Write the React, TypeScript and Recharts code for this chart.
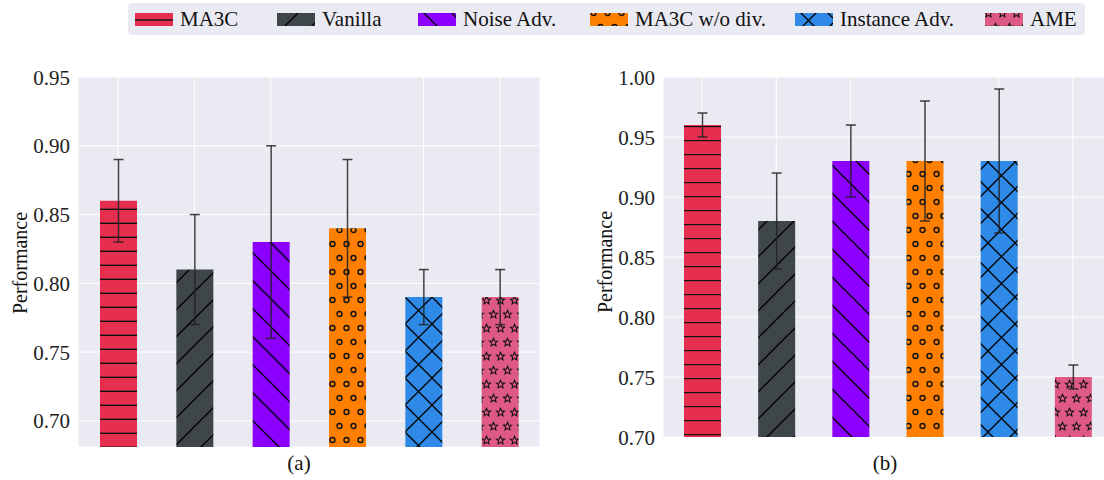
import React from 'react';
import { BarChart, Bar, XAxis, YAxis, CartesianGrid, Cell, ErrorBar } from 'recharts';

const methods = ['MA3C', 'Vanilla', 'Noise Adv.', 'MA3C w/o div.', 'Instance Adv.', 'AME'];
const perfA = [0.86, 0.81, 0.83, 0.84, 0.79, 0.79];
const errA = [0.03, 0.04, 0.07, 0.05, 0.02, 0.02];
const perfB = [0.96, 0.88, 0.93, 0.93, 0.93, 0.75];
const errB = [0.01, 0.04, 0.03, 0.05, 0.06, 0.01];
const ticksA = [0.7, 0.75, 0.8, 0.85, 0.9, 0.95];
const ticksB = [0.7, 0.75, 0.8, 0.85, 0.9, 0.95, 1.0];
const panelLabels = ['(a)', '(b)'];
const colors = ['#E62E4F', '#3E464A', '#8B00FF', '#FF8000', '#2E8AE6', '#DE5A84'];

const FONT = "'Liberation Serif', 'Times New Roman', Times, serif";
const BG = '#EAEAF2';

const dataA = methods.map((m, i) => ({ name: m, v: perfA[i], e: errA[i] }));
const dataB = methods.map((m, i) => ({ name: m, v: perfB[i], e: errB[i] }));

function starPath(cx: number, cy: number, R: number, r: number) {
  const pts: string[] = [];
  for (let k = 0; k < 10; k++) {
    const rad = k % 2 === 0 ? R : r;
    const a = -Math.PI / 2 + (k * Math.PI) / 5;
    pts.push(`${(cx + rad * Math.cos(a)).toFixed(2)},${(cy + rad * Math.sin(a)).toFixed(2)}`);
  }
  return 'M' + pts.join('L') + 'Z';
}

const PatternSet = ({ p, hy }: { p: string; hy: number }) => (
  <>
    <pattern id={`${p}0`} patternUnits="userSpaceOnUse" width={14} height={14}>
      <rect width={14} height={14} fill={colors[0]} />
      <line x1={0} x2={14} y1={hy} y2={hy} stroke="#111" strokeWidth={1.4} />
    </pattern>
    <pattern id={`${p}1`} patternUnits="userSpaceOnUse" width={27} height={27}>
      <rect width={27} height={27} fill={colors[1]} />
      <line x1={0} y1={27} x2={27} y2={0} stroke="#000" strokeWidth={1.3} />
      <line x1={-2} y1={2} x2={2} y2={-2} stroke="#000" strokeWidth={1.3} />
      <line x1={25} y1={29} x2={29} y2={25} stroke="#000" strokeWidth={1.3} />
    </pattern>
    <pattern id={`${p}2`} patternUnits="userSpaceOnUse" width={28} height={28}>
      <rect width={28} height={28} fill={colors[2]} />
      <line x1={0} y1={0} x2={28} y2={28} stroke="#000" strokeWidth={1.3} />
      <line x1={-2} y1={26} x2={2} y2={30} stroke="#000" strokeWidth={1.3} />
      <line x1={26} y1={-2} x2={30} y2={2} stroke="#000" strokeWidth={1.3} />
    </pattern>
    <pattern id={`${p}3`} patternUnits="userSpaceOnUse" width={14} height={28}>
      <rect width={14} height={28} fill={colors[3]} />
      <circle cx={3.5} cy={6} r={2.5} fill="none" stroke="#111" strokeWidth={1.4} />
      <circle cx={10.5} cy={20} r={2.5} fill="none" stroke="#111" strokeWidth={1.4} />
    </pattern>
    <pattern id={`${p}4`} patternUnits="userSpaceOnUse" width={27} height={27}>
      <rect width={27} height={27} fill={colors[4]} />
      <line x1={0} y1={0} x2={27} y2={27} stroke="#000" strokeWidth={1.3} />
      <line x1={0} y1={27} x2={27} y2={0} stroke="#000" strokeWidth={1.3} />
    </pattern>
    <pattern id={`${p}5`} patternUnits="userSpaceOnUse" width={14} height={28}>
      <rect width={14} height={28} fill={colors[5]} />
      <path d={starPath(3.5, 6.5, 4.2, 1.9)} fill="none" stroke="#111" strokeWidth={1.1} />
      <path d={starPath(10.5, 20.5, 4.2, 1.9)} fill="none" stroke="#111" strokeWidth={1.1} />
      <path d={starPath(17.5, 6.5, 4.2, 1.9)} fill="none" stroke="#111" strokeWidth={1.1} />
      <path d={starPath(-3.5, 20.5, 4.2, 1.9)} fill="none" stroke="#111" strokeWidth={1.1} />
    </pattern>
  </>
);

const Patterns = () => (
  <svg width={0} height={0} style={{ position: 'absolute' }}>
    <defs>
      <PatternSet p="patL" hy={13} />
      <PatternSet p="patA" hy={13.3} />
      <PatternSet p="patB" hy={0.5} />
    </defs>
  </svg>
);

const legendSwatchX = [135, 277, 418, 590, 795, 985];

const Legend = () => (
  <div
    style={{
      position: 'absolute',
      left: 128,
      top: 3,
      width: 957,
      height: 32,
      background: '#EAEAF2',
      borderRadius: 4,
    }}
  >
    {methods.map((m, i) => (
      <div
        key={m}
        style={{
          position: 'absolute',
          left: legendSwatchX[i] - 128,
          top: 0,
          height: 32,
          display: 'flex',
          alignItems: 'center',
          whiteSpace: 'nowrap',
        }}
      >
        <svg width={38} height={13} style={{ display: 'block' }}>
          <g transform="translate(0,-6)">
            <rect x={0} y={6} width={38} height={13} fill={`url(#patL${i})`} />
          </g>
        </svg>
        <span style={{ marginLeft: 7, fontFamily: FONT, fontSize: 21, color: '#111', lineHeight: '32px' }}>{m}</span>
      </div>
    ))}
  </div>
);

const YTick = (props: any) => {
  const { x, y, payload } = props;
  return (
    <text x={x} y={y} dy="0.36em" textAnchor="end" fontFamily="Liberation Serif" fontSize={21} fill="#222">
      {Number(payload.value).toFixed(2)}
    </text>
  );
};

function Panel({ data, ticks, domain, width, height, bottom, yw, pid }: any) {
  return (
    <BarChart width={width} height={height} data={data} margin={{ top: 77, right: 0, bottom, left: 0 }}>
      <CartesianGrid stroke="#FFFFFF" strokeWidth={1} fill={BG} />
      <XAxis dataKey="name" hide padding={{ left: 2, right: 2 }} />
      <YAxis
        type="number"
        domain={domain}
        ticks={ticks}
        allowDataOverflow
        axisLine={false}
        tickLine={false}
        width={yw}
        tick={<YTick />}
        interval={0}
      />
      <Bar dataKey="v" barSize={37} isAnimationActive={false}>
        {data.map((d: any, i: number) => (
          <Cell key={d.name} fill={`url(#${pid}${i})`} />
        ))}
        <ErrorBar dataKey="e" width={5} stroke="#222" strokeOpacity={0.85} strokeWidth={1.5} direction="y" />
      </Bar>
    </BarChart>
  );
}

const labelStyle: React.CSSProperties = {
  position: 'absolute',
  fontFamily: FONT,
  fontSize: 21,
  color: '#111',
  whiteSpace: 'nowrap',
  lineHeight: 1,
};

export default function App() {
  return (
    <div style={{ position: 'fixed', left: 0, top: 0, width: 1104, height: 480, overflow: 'hidden', background: '#fff' }}>
      <Patterns />
      <Legend />
      <div style={{ position: 'absolute', left: 0, top: 0 }}>
        <Panel data={dataA} ticks={ticksA} domain={[0.681, 0.95]} width={540} height={480} bottom={33} yw={78} pid="patA" />
      </div>
      <div style={{ position: 'absolute', left: 583, top: 0 }}>
        <Panel data={dataB} ticks={ticksB} domain={[0.7, 1.0]} width={529} height={480} bottom={43} yw={80} pid="patB" />
      </div>
      <div style={{ ...labelStyle, left: 20, top: 263, transform: 'translate(-50%,-50%) rotate(-90deg)', fontSize: 20 }}>Performance</div>
      <div style={{ ...labelStyle, left: 605, top: 262, transform: 'translate(-50%,-50%) rotate(-90deg)', fontSize: 20 }}>Performance</div>
      <div style={{ ...labelStyle, left: 299, top: 463, transform: 'translate(-50%,-50%)' }}>{panelLabels[0]}</div>
      <div style={{ ...labelStyle, left: 885, top: 463, transform: 'translate(-50%,-50%)' }}>{panelLabels[1]}</div>
    </div>
  );
}
